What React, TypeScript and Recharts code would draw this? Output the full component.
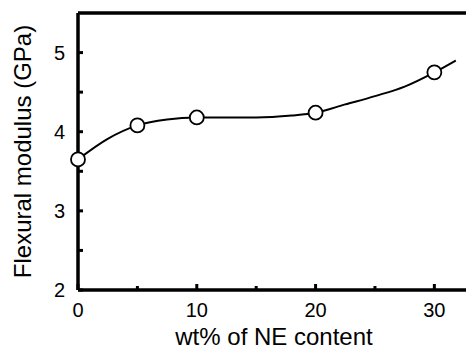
import React from "react"
import { ComposedChart, Line, XAxis, YAxis, ReferenceLine } from "recharts"

// measured samples
const contents = [0, 5, 10, 20, 30]
const modulus = [3.65, 4.08, 4.18, 4.24, 4.75]
// fitted curve
const fitX = [0, 2.5, 5, 7.5, 10, 15, 18, 20, 22.5, 25, 27.5, 30, 31.8]
const fitY = [3.65, 3.91, 4.08, 4.155, 4.18, 4.18, 4.205, 4.24, 4.345, 4.45, 4.57, 4.75, 4.9]
const xTicks = [0, 5, 10, 15, 20, 25, 30]
const yTicks = [2, 2.5, 3, 3.5, 4, 4.5, 5]

const data = fitX.map((x, i) => {
  const k = contents.indexOf(x)
  return { x, fit: fitY[i], measured: k >= 0 ? modulus[k] : null }
})

const font = "'Liberation Sans', Arial, sans-serif"

const XTick = (props: any) => {
  const { x, y, payload } = props
  const major = payload.value % 10 === 0
  return (
    <g>
      <line x1={x} x2={x} y1={y} y2={y - (major ? 6 : 4)} stroke="#000" strokeWidth={3} />
      {major && (
        <text x={x} y={y + 27} textAnchor="middle" fontSize={20} fontFamily={font} fill="#000">
          {payload.value}
        </text>
      )}
    </g>
  )
}

const YTick = (props: any) => {
  const { x, y, payload } = props
  const major = Number.isInteger(payload.value)
  return (
    <g>
      <line x1={x} x2={x + 5} y1={y} y2={y} stroke="#000" strokeWidth={3} />
      {major && (
        <text x={x - 13} y={y + 7} textAnchor="end" fontSize={20} fontFamily={font} fill="#000">
          {payload.value}
        </text>
      )}
    </g>
  )
}

export default function App() {
  return (
    <div style={{ position: "absolute", left: 0, top: 0, width: 466, height: 350, overflow: "hidden", background: "#fff" }}>
      <ComposedChart width={480} height={350} data={data} margin={{ top: 13, right: 10, left: 0, bottom: 0 }}>
        <XAxis
          dataKey="x"
          type="number"
          domain={[0, 33]}
          ticks={xTicks}
          tick={<XTick />}
          tickLine={false}
          tickSize={0}
          tickMargin={0}
          height={60}
          axisLine={{ stroke: "#000", strokeWidth: 3.5 }}
          label={{ value: "wt% of NE content", position: "insideBottom", offset: 5, fontSize: 24, fontFamily: font, fill: "#000" }}
        />
        <YAxis
          type="number"
          domain={[2, 5.5]}
          ticks={yTicks}
          tick={<YTick />}
          tickLine={false}
          tickSize={0}
          tickMargin={0}
          width={78}
          axisLine={{ stroke: "#000", strokeWidth: 3.5 }}
          label={{ value: "Flexural modulus (GPa)", angle: -90, position: "center", dx: -17, fontSize: 24, fontFamily: font, fill: "#000" }}
        />
        <ReferenceLine y={5.5} stroke="#000" strokeWidth={3.5} />
        <Line type="monotone" dataKey="fit" stroke="#000" strokeWidth={2} dot={false} isAnimationActive={false} />
        <Line
          dataKey="measured"
          stroke="none"
          dot={{ r: 7, fill: "#fff", stroke: "#000", strokeWidth: 1.8 }}
          activeDot={false}
          isAnimationActive={false}
        />
      </ComposedChart>
    </div>
  )
}
